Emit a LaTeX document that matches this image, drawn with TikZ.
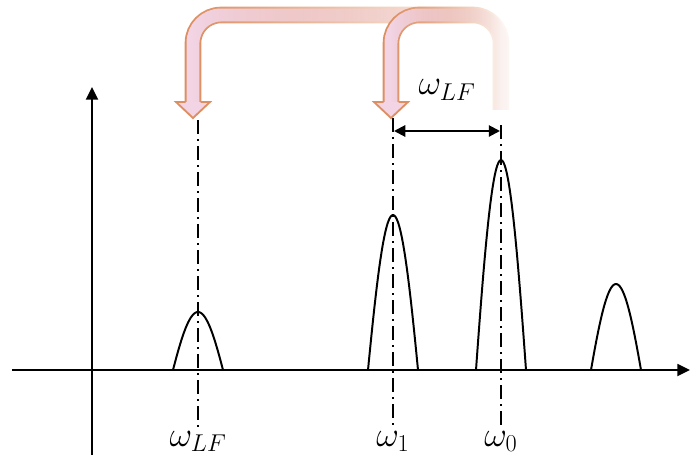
\documentclass[tikz,border=0pt]{standalone}
\usepackage{tikz}
\usetikzlibrary{arrows.meta,fadings}
\definecolor{arrowfill}{RGB}{242,212,228}
\definecolor{arrowedge}{RGB}{222,142,96}
\tikzfading[name=fadeband, left color=transparent!0, middle color=transparent!45, right color=transparent!96]

\begin{document}
\begin{tikzpicture}[
  x=0.025cm, y=-0.025cm,
  axis/.style={line width=1.4pt, -{Triangle[length=9pt,width=8.5pt]}},
  peak/.style={line width=1.4pt},
  guide/.style={line width=1.4pt, dash pattern=on 10pt off 3.5pt on 1.5pt off 3.5pt},
  measure/.style={line width=1.4pt, {Triangle[length=8pt,width=8pt]}-{Triangle[length=8pt,width=8pt]}},
  freqlabel/.style={font=\fontsize{26}{30}\selectfont, inner sep=2pt},
  band/.style={line width=1.3pt, draw=arrowedge, double=arrowfill, double distance=9.2pt, rounded corners=20pt, path fading=fadeband},
  headedge/.style={draw=arrowedge, line width=1.3pt, line join=miter}
]
\useasboundingbox (0,0) rectangle (690,461);

% axes
\coordinate (xs) at (12,370);
\coordinate (xe) at (690,370);
\coordinate (ys) at (92,455);
\coordinate (ye) at (92,87);
\draw[axis] (xs) -- (xe);
\draw[axis] (ys) -- (ye);

% peaks
\foreach \pk/\ht in {198/58, 393/155, 501/210, 616/86}
  \draw[peak] plot[domain=-25:25, samples=41, smooth]
    ({\pk+\x}, {370-\ht*(cos(80*\x/25)-0.1736)/0.8264});

% frequency labels
\node[freqlabel, anchor=north] (lLF) at (198,428) {$\omega_{LF}$};
\node[freqlabel, anchor=north] (l1) at (393,428) {$\omega_1$};
\node[freqlabel, anchor=north] (l0) at (501,428) {$\omega_0$};

% guide lines
\coordinate (gLF) at (198,120);
\coordinate (g1) at (393,118);
\coordinate (g0) at (501,125);
\draw[guide] (gLF) -- (lLF.north);
\draw[guide] (g1) -- (l1.north);
\draw[guide] (g0) -- (l0.north);

% spacing between omega_1 and omega_0
\coordinate (d1) at (394,131);
\coordinate (d0) at (500,131);
\draw[measure] (d1) -- (d0);
\node[freqlabel] (gap) at (447,90) {$\omega_{LF}$};

% fading arrows (shift to omega_LF and omega_1)
\coordinate (src) at (501,110);
\coordinate (hLF) at (193,102);
\coordinate (h1) at (391,102);
\draw[band] (src) -- (src |- 0,15) -| (hLF);
\fill[arrowfill] (hLF) ++(-17,0) -- ++(17,16) -- ++(17,-16) -- cycle;
\draw[headedge] (hLF) ++(-7.5,0) -- ++(-9.5,0) -- ++(17,16) -- ++(17,-16) -- ++(-9.5,0);
\draw[band] (src) -- (src |- 0,15) -| (h1);
\fill[arrowfill] (h1) ++(-17,0) -- ++(17,16) -- ++(17,-16) -- cycle;
\draw[headedge] (h1) ++(-7.5,0) -- ++(-9.5,0) -- ++(17,16) -- ++(17,-16) -- ++(-9.5,0);

\end{tikzpicture}
\end{document}
